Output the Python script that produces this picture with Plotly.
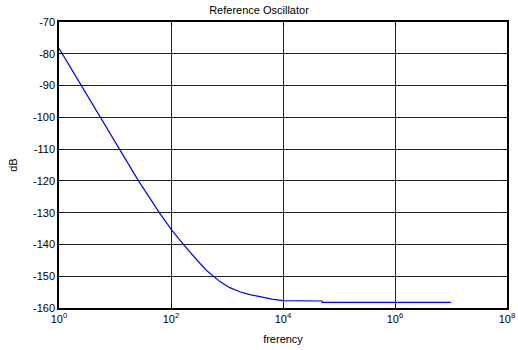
import plotly.graph_objects as go

# Phase-noise curve of the reference oscillator
freq_hz = [1, 26.3, 61.7, 100, 166, 240, 331, 437, 569, 750, 1122,
           1698, 2570, 3890, 6310, 10000, 49999, 50000, 1e7]
level_db = [-78.3, -120, -130, -135.2, -140, -143.3, -146.0, -148.3, -150, -151.7, -153.6,
            -154.9, -155.8, -156.5, -157.2, -157.7, -157.8, -158.2, -158.2]

x_tickvals = [1, 1e2, 1e4, 1e6, 1e8]
x_ticktext = ["10<sup>0</sup>", "10<sup>2</sup>", "10<sup>4</sup>",
              "10<sup>6</sup>", "10<sup>8</sup>"]
y_tickvals = [-160, -150, -140, -130, -120, -110, -100, -90, -80, -70]
y_ticktext = ["-160", "-150", "-140", "-130", "-120", "-110", "-100", "-90", "-80", "-70"]

FONT = "Liberation Sans, Arial, sans-serif"

fig = go.Figure()
fig.add_trace(go.Scatter(
    x=freq_hz, y=level_db, mode="lines",
    line=dict(color="#0000ff", width=1.2),
    showlegend=False,
))

axis_common = dict(
    showline=True, linecolor="black", linewidth=1.5, mirror="ticks",
    ticks="inside", ticklen=4, tickcolor="black",
    showgrid=True, gridcolor="#222222", gridwidth=1,
    zeroline=False, automargin=False,
    tickfont=dict(family=FONT, size=11, color="black"),
)

fig.update_layout(
    width=518, height=350,
    margin=dict(l=59, r=11, t=22, b=42),
    paper_bgcolor="white", plot_bgcolor="white",
    title=dict(text="Reference Oscillator", x=0.5, xanchor="center",
               y=0.972, yanchor="middle",
               font=dict(family=FONT, size=11, color="black")),
    xaxis=dict(type="log", range=[0, 8], tickvals=x_tickvals, ticktext=x_ticktext,
               title=dict(text="frerency", standoff=11,
                          font=dict(family=FONT, size=11, color="black")),
               **axis_common),
    yaxis=dict(range=[-160, -70], tickvals=y_tickvals, ticktext=y_ticktext,
               title=dict(text="dB", standoff=13,
                          font=dict(family=FONT, size=11, color="black")),
               **axis_common),
)

fig.write_html("out.html")
